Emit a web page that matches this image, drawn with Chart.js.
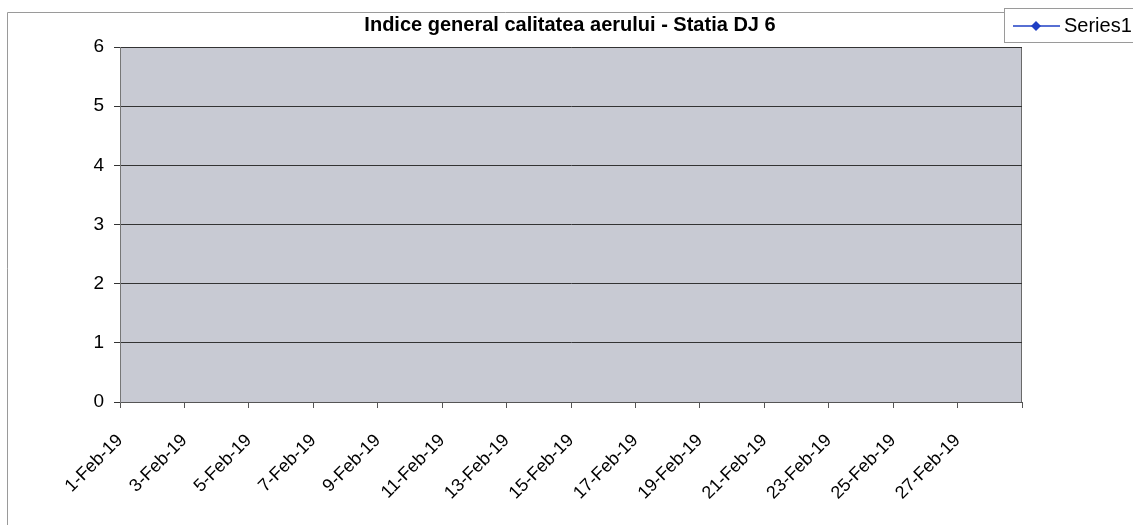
<!DOCTYPE html>
<html>
<head>
<meta charset="utf-8">
<script src="https://cdn.jsdelivr.net/npm/chart.js@4"></script>
<style>
  html, body { margin: 0; padding: 0; background: #fff; }
  #wrap { width: 1133px; height: 525px; position: relative; }
</style>
</head>
<body>
<div id="wrap"><canvas id="chart"></canvas></div>
<script>
// axa x: zilele din februarie (ultima eticheta nu se afiseaza)
const dates = [
  "1-Feb-19", "2-Feb-19", "3-Feb-19", "4-Feb-19", "5-Feb-19", "6-Feb-19", "7-Feb-19",
  "8-Feb-19", "9-Feb-19", "10-Feb-19", "11-Feb-19", "12-Feb-19", "13-Feb-19", "14-Feb-19",
  "15-Feb-19", "16-Feb-19", "17-Feb-19", "18-Feb-19", "19-Feb-19", "20-Feb-19", "21-Feb-19",
  "22-Feb-19", "23-Feb-19", "24-Feb-19", "25-Feb-19", "26-Feb-19", "27-Feb-19", "28-Feb-19",
  "1-Mar-19"
];
// Series1 - fara valori vizibile in grafic
const series1 = [
  null, null, null, null, null, null, null,
  null, null, null, null, null, null, null,
  null, null, null, null, null, null, null,
  null, null, null, null, null, null, null,
  null
];
const yMin = 0;
const yMax = 6;
const yStep = 1;

const titleText = "Indice general calitatea aerului - Statia DJ 6";
const seriesName = "Series1";
const font = "'Liberation Sans', Arial, sans-serif";

const $chart = document.getElementById("chart").getContext("2d");

// fundal gri al zonei de desen + chenare
const plotArea = {
  id: "plotArea",
  beforeDraw(chart) {
    const { ctx, chartArea: a } = chart;
    ctx.save();
    ctx.fillStyle = "#fff";
    ctx.fillRect(0, 0, chart.width, chart.height);
    ctx.fillStyle = "#c8cad3";
    ctx.fillRect(a.left, a.top, a.right - a.left, a.bottom - a.top);
    ctx.lineWidth = 1;
    ctx.strokeStyle = "#9c9c9c";
    ctx.beginPath();
    ctx.moveTo(a.left, a.top + 0.5);
    ctx.lineTo(a.right, a.top + 0.5);
    ctx.stroke();
    ctx.strokeStyle = "#6a6a6a";
    ctx.beginPath();
    ctx.moveTo(a.right - 0.5, a.top);
    ctx.lineTo(a.right - 0.5, a.bottom);
    ctx.stroke();
    // chenarul exterior al graficului
    ctx.strokeStyle = "#9a9a9a";
    ctx.beginPath();
    ctx.moveTo(7.5, chart.height);
    ctx.lineTo(7.5, 12.5);
    ctx.lineTo(1004, 12.5);
    ctx.stroke();
    ctx.restore();
  },
  afterDraw(chart) {
    const { ctx, chartArea: a } = chart;
    ctx.save();
    // titlu
    ctx.fillStyle = "#000";
    ctx.font = "bold 20px " + font;
    ctx.textAlign = "center";
    ctx.textBaseline = "alphabetic";
    ctx.fillText(titleText, 570, 31);
    // legenda
    ctx.fillStyle = "#fff";
    ctx.fillRect(1004, 8, 140, 34);
    ctx.strokeStyle = "#9a9a9a";
    ctx.lineWidth = 1;
    ctx.strokeRect(1004.5, 8.5, 140, 34);
    ctx.strokeStyle = "#1f3fc4";
    ctx.lineWidth = 1.5;
    ctx.beginPath();
    ctx.moveTo(1013, 26);
    ctx.lineTo(1060, 26);
    ctx.stroke();
    ctx.fillStyle = "#1f3fc4";
    ctx.beginPath();
    ctx.moveTo(1036, 21);
    ctx.lineTo(1041, 26);
    ctx.lineTo(1036, 31);
    ctx.lineTo(1031, 26);
    ctx.closePath();
    ctx.fill();
    ctx.fillStyle = "#000";
    ctx.font = "20px " + font;
    ctx.textAlign = "left";
    ctx.fillText(seriesName, 1064, 32);
    ctx.restore();
  }
};

const chartOption = {
  type: "line",
  data: {
    labels: dates,
    datasets: [
      {
        label: seriesName,
        data: series1,
        borderColor: "#1f3fc4",
        backgroundColor: "#1f3fc4",
        pointStyle: "rectRot",
        pointRadius: 5,
        borderWidth: 1.5,
      },
    ],
  },
  options: {
    responsive: false,
    animation: false,
    layout: { padding: { top: 47, right: 111, left: 0, bottom: 0 } },
    plugins: {
      legend: { display: false },
      title: { display: false },
      tooltip: { enabled: false },
    },
    scales: {
      x: {
        type: "category",
        offset: false,
        grid: {
          drawOnChartArea: false,
          color: "#555",
          tickLength: 6,
          offset: false,
        },
        border: { color: "#555", width: 1 },
        ticks: {
          autoSkip: false,
          minRotation: 45,
          maxRotation: 45,
          color: "#000",
          padding: 22,
          font: { family: font, size: 18 },
          callback: function (value, index) {
            if (index === dates.length - 1) return "";
            if (index % 2 !== 0) return null;
            return dates[index];
          },
        },
        afterFit: (axis) => { axis.height = 123; },
      },
      y: {
        min: yMin,
        max: yMax,
        grid: {
          color: "#333",
          lineWidth: 1,
          tickLength: 6,
        },
        border: { color: "#777", width: 1 },
        ticks: {
          stepSize: yStep,
          color: "#000",
          padding: 10,
          font: { family: font, size: 19 },
        },
        afterFit: (axis) => { axis.width = 120; },
      },
    },
  },
  plugins: [plotArea],
};

const canvas = document.getElementById("chart");
canvas.width = 1133;
canvas.height = 525;
new Chart($chart, chartOption);
</script>
</body>
</html>
